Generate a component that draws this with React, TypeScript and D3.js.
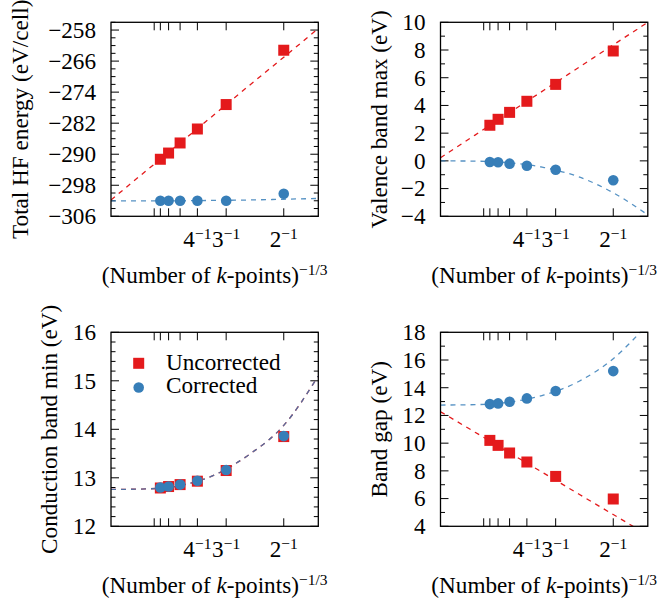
import React from 'react';
import * as d3 from 'd3';

// ---------- data ----------
const kMesh = [7, 6, 5, 4, 3, 2]; // k-mesh per side -> x = 1/n
const xTickMesh = [8, 7, 6, 5, 4, 3, 2];
const xLabelMesh = [4, 3, 2];

const totalUncorrected = [-291.3, -289.7, -287.1, -283.5, -277.2, -263.2];
const totalCorrected = [-302.0, -302.0, -302.0, -302.0, -302.0, -300.2];
const vbmUncorrected = [2.57, 3.0, 3.5, 4.3, 5.52, 7.93];
const vbmCorrected = [-0.08, -0.1, -0.2, -0.35, -0.64, -1.4];
const cbmUncorrected = [12.79, 12.82, 12.86, 12.93, 13.15, 13.85];
const cbmCorrected = [12.8, 12.82, 12.86, 12.94, 13.16, 13.86];
const gapUncorrected = [10.2, 9.84, 9.29, 8.64, 7.6, 5.97];
const gapCorrected = [12.82, 12.87, 12.99, 13.23, 13.76, 15.2];

// fit curves at these x positions
const fitX = [0, 0.1, 0.2, 0.3, 0.4, 0.5, 0.6];
const totalUncorrectedFit = [-301.8, -294.4, -287.1, -279.7, -272.3, -265.0, -257.6];
const totalCorrectedFit = [-302.0, -302.0, -302.0, -301.9, -301.8, -301.6, -301.4];
const vbmUncorrectedFit = [0.23, 1.86, 3.49, 5.11, 6.74, 8.37, 10.0];
const vbmCorrectedFit = [0, -0.02, -0.14, -0.48, -1.15, -2.3, -3.9];
const cbmUncorrectedFit = [12.76, 12.77, 12.84, 13.06, 13.48, 14.08, 15.1];
const cbmCorrectedFit = [12.76, 12.77, 12.84, 13.06, 13.48, 14.08, 15.1];
const gapUncorrectedFit = [12.27, 10.79, 9.3, 7.82, 6.33, 4.85, 3.36];
const gapCorrectedFit = [12.75, 12.78, 12.96, 13.48, 14.45, 16.1, 18.6];

const totalTicks = [-306, -298, -290, -282, -274, -266, -258];
const vbmTicks = [-4, -2, 0, 2, 4, 6, 8, 10];
const cbmTicks = [12, 13, 14, 15, 16];
const gapTicks = [4, 6, 8, 10, 12, 14, 16, 18];

const legendLabels = ['Uncorrected', 'Corrected'];

// ---------- style ----------
const FONT = '"Liberation Serif", "Times New Roman", serif';
const RED = '#e41a1c';
const BLUE = '#377eb8';
const FS = 23.2;
const SUP = 15.5;

const PW = 207.3;
const PH = 194;

interface PanelSpec {
  left: number;
  top: number;
  domain: [number, number];
  ticks: number[];
  minorStep: number;
  title: string;
  titleOffset: number;
  uncorr: number[];
  corr: number[];
  uncorrFit: number[];
  corrFit: number[];
  legend?: boolean;
  id: string;
}

const panels: PanelSpec[] = [
  { id: 'p1', left: 111, top: 22.3, domain: [-306, -256], ticks: totalTicks, minorStep: 2, title: 'Total HF energy (eV/cell)', titleOffset: -82.7, uncorr: totalUncorrected, corr: totalCorrected, uncorrFit: totalUncorrectedFit, corrFit: totalCorrectedFit },
  { id: 'p2', left: 440.5, top: 22.3, domain: [-4, 10], ticks: vbmTicks, minorStep: 1, title: 'Valence band max (eV)', titleOffset: -53.8, uncorr: vbmUncorrected, corr: vbmCorrected, uncorrFit: vbmUncorrectedFit, corrFit: vbmCorrectedFit },
  { id: 'p3', left: 111, top: 332.3, domain: [12, 16], ticks: cbmTicks, minorStep: 0.2, title: 'Conduction band min (eV)', titleOffset: -54.3, uncorr: cbmUncorrected, corr: cbmCorrected, uncorrFit: cbmUncorrectedFit, corrFit: cbmCorrectedFit, legend: true },
  { id: 'p4', left: 440.5, top: 332.3, domain: [4, 18], ticks: gapTicks, minorStep: 1, title: 'Band gap (eV)', titleOffset: -53.8, uncorr: gapUncorrected, corr: gapCorrected, uncorrFit: gapUncorrectedFit, corrFit: gapCorrectedFit },
];

const fmt = (v: number) => (v < 0 ? '\u2212' + Math.abs(v) : String(v));

function Panel({ p }: { p: PanelSpec }) {
  const x = d3.scaleLinear().domain([0, 0.6]).range([p.left, p.left + PW]);
  const y = d3.scaleLinear().domain(p.domain).range([p.top + PH, p.top]);
  const bottom = p.top + PH;
  const right = p.left + PW;

  const minor: number[] = [];
  const n = Math.round((p.domain[1] - p.domain[0]) / p.minorStep);
  for (let i = 0; i <= n; i++) {
    const v = p.domain[0] + i * p.minorStep;
    if (!p.ticks.some((t) => Math.abs(t - v) < 1e-6)) minor.push(v);
  }

  const line = d3
    .line<number>()
    .x((_, i) => x(fitX[i]))
    .y((d) => y(d))
    .curve(d3.curveMonotoneX);

  const xs = kMesh.map((k) => 1 / k);
  const MAJ = 8;
  const MIN = 4.5;

  return (
    <g>
      <defs>
        <clipPath id={`clip-${p.id}`}>
          <rect x={p.left} y={p.top} width={PW} height={PH} />
        </clipPath>
      </defs>
      <g stroke="#000" strokeWidth={1}>
        {xTickMesh.map((k) => {
          const xx = x(1 / k);
          return (
            <g key={`xt${k}`}>
              <line x1={xx} x2={xx} y1={bottom} y2={bottom - MAJ} />
              <line x1={xx} x2={xx} y1={p.top} y2={p.top + MAJ} />
            </g>
          );
        })}
        {p.ticks.map((t) => (
          <g key={`yt${t}`}>
            <line x1={p.left} x2={p.left + MAJ} y1={y(t)} y2={y(t)} />
            <line x1={right} x2={right - MAJ} y1={y(t)} y2={y(t)} />
          </g>
        ))}
        {minor.map((t) => (
          <g key={`ym${t}`}>
            <line x1={p.left} x2={p.left + MIN} y1={y(t)} y2={y(t)} />
            <line x1={right} x2={right - MIN} y1={y(t)} y2={y(t)} />
          </g>
        ))}
      </g>
      <g clipPath={`url(#clip-${p.id})`} fill="none" strokeWidth={1.3} strokeDasharray="5 5">
        <path d={line(p.uncorrFit) || ''} stroke={RED} />
        <path d={line(p.corrFit) || ''} stroke={BLUE} strokeOpacity={0.85} />
      </g>
      {p.uncorr.map((v, i) => (
        <rect key={`u${i}`} x={x(xs[i]) - 5.5} y={y(v) - 5.5} width={11} height={11} fill={RED} />
      ))}
      {p.corr.map((v, i) => (
        <circle key={`c${i}`} cx={x(xs[i])} cy={y(v)} r={5.3} fill={BLUE} />
      ))}
      <rect x={p.left} y={p.top} width={PW} height={PH} fill="none" stroke="#000" strokeWidth={1.3} />
      {p.ticks.map((t) => (
        <text key={`yl${t}`} x={p.left - 15} y={y(t)} dy="0.34em" textAnchor="end" fontSize={FS} fontFamily={FONT}>
          {fmt(t)}
        </text>
      ))}
      {xLabelMesh.map((k) => (
        <text key={`xl${k}`} x={x(1 / k)} y={bottom + 30.2} textAnchor="middle" fontSize={FS} fontFamily={FONT}>
          {k}
          <tspan dy={-7.5} fontSize={SUP}>{'\u22121'}</tspan>
        </text>
      ))}
      <text x={(p.left + right) / 2} y={bottom + 66.7} textAnchor="middle" fontSize={FS} fontFamily={FONT}>
        (Number of <tspan fontStyle="italic">k</tspan>-points)
        <tspan dy={-8.5} fontSize={SUP}>{'\u22121/3'}</tspan>
      </text>
      <text
        transform={`translate(${p.left + p.titleOffset},${p.top + PH / 2}) rotate(-90)`}
        textAnchor="middle"
        fontSize={FS}
        fontFamily={FONT}
      >
        {p.title}
      </text>
      {p.legend && (
        <g fontSize={FS} fontFamily={FONT}>
          <rect x={p.left + 27.7 - 5.5} y={p.top + 31 - 5.5} width={11} height={11} fill={RED} />
          <text x={p.left + 55} y={p.top + 37.7}>{legendLabels[0]}</text>
          <circle cx={p.left + 27.7} cy={p.top + 55.2} r={5.3} fill={BLUE} />
          <text x={p.left + 55} y={p.top + 61}>{legendLabels[1]}</text>
        </g>
      )}
    </g>
  );
}

export default function App() {
  return (
    <svg
      width={663}
      height={607}
      viewBox="0 0 663 607"
      style={{ position: 'absolute', left: 0, top: 0, display: 'block', background: '#fff' }}
    >
      <rect x={0} y={0} width={663} height={607} fill="#fff" />
      {panels.map((p) => (
        <Panel key={p.id} p={p} />
      ))}
    </svg>
  );
}
